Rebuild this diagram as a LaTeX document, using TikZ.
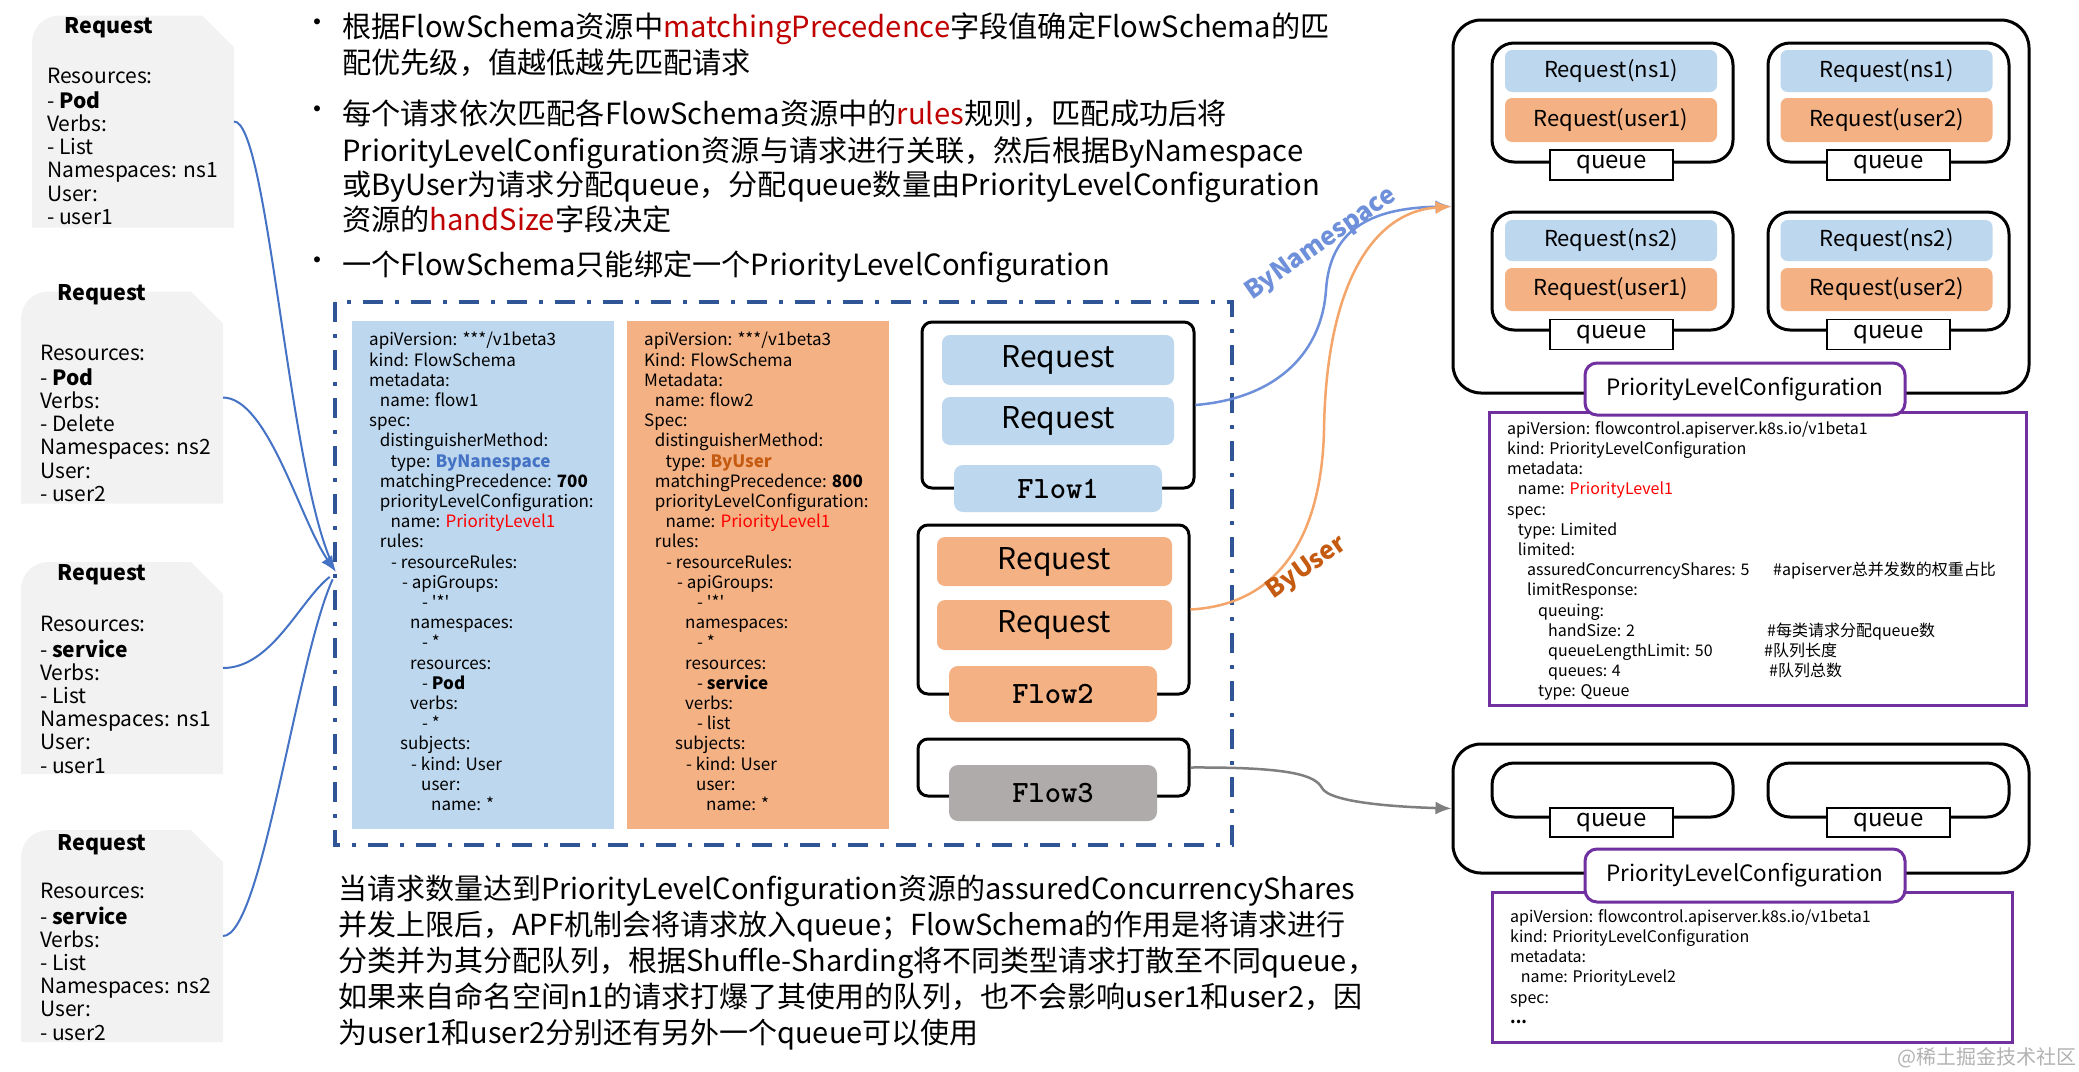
\documentclass[tikz,border=0pt]{standalone}
\usepackage{fontspec}
\setmainfont{Noto Sans CJK SC}
\newfontfamily\rawfont{Noto Sans CJK SC}[Ligatures=TeXOff]
\usetikzlibrary{calc,arrows.meta}
\definecolor{cardgray}{HTML}{F2F2F2}
\definecolor{lblue}{HTML}{BDD7EE}
\definecolor{lorange}{HTML}{F4B183}
\definecolor{fgray}{HTML}{AFABAB}
\definecolor{kblue}{HTML}{4472C4}
\definecolor{nsblue}{HTML}{6E8FD9}
\definecolor{korange}{HTML}{C55A11}
\definecolor{corange}{HTML}{F4A56A}
\definecolor{dred}{HTML}{C00000}
\definecolor{bred}{HTML}{FF0000}
\definecolor{purp}{HTML}{7030A0}
\definecolor{dashblue}{HTML}{2F5597}
\definecolor{linegray}{HTML}{7F7F7F}
\newcommand\drawcard[1]{%
  \fill[cardgray] (#1.south west) -- ($(#1.north west)+(0,28)$)
    .. controls ($(#1.north west)+(0,12)$) and ($(#1.north west)+(12,0)$) .. ($(#1.north west)+(28,0)$)
    -- ($(#1.north east)+(-32,0)$) -- ($(#1.north east)+(0,32)$) -- (#1.south east) -- cycle;}
\newcommand\sq{{\rawfont'*'}}
\begin{document}
\begin{tikzpicture}[x=1pt,y=-1pt,
  cardbox/.style={inner sep=0pt, outer sep=0pt, minimum width=202pt, minimum height=212pt},
  cardhead/.style={font=\fontsize{21.5}{26}\selectfont\bfseries, inner sep=0pt, anchor=west},
  cardtext/.style={font=\fontsize{21}{23.2}\selectfont, align=left, inner sep=0pt, anchor=north west},
  bullettext/.style={font=\fontsize{29.2}{34.5}\selectfont, align=left, inner sep=0pt, anchor=north west},
  bottomtext/.style={font=\fontsize{29}{36}\selectfont, align=left, inner sep=0pt, anchor=north west},
  bulletdot/.style={font=\fontsize{28}{34.5}\selectfont, inner sep=0pt},
  yamltext/.style={font=\fontsize{17}{20.2}\selectfont, align=left, inner sep=0pt, anchor=north west},
  plyaml/.style={font=\fontsize{16}{20.2}\selectfont, align=left, inner sep=0pt, anchor=north west},
  yamlbox/.style={inner sep=0pt, draw=none, minimum width=262pt, minimum height=508pt},
  flowbox/.style={draw=black, line width=3pt, rounded corners=10pt, inner sep=0pt},
  reqbox/.style={rounded corners=8pt, inner sep=0pt, font=\fontsize{30}{34}\selectfont},
  flowlabel/.style={rounded corners=9pt, inner sep=0pt, minimum width=208pt, font=\fontsize{31}{34}\selectfont\ttfamily\bfseries},
  bigbox/.style={draw=black, line width=3pt, rounded corners=28pt, inner sep=0pt, minimum width=576pt},
  qbox/.style={draw=black, line width=3pt, rounded corners=22pt, inner sep=0pt, minimum width=241pt},
  ireq/.style={rounded corners=7pt, inner sep=0pt, minimum width=212pt, font=\fontsize{22}{26}\selectfont},
  qlabel/.style={draw=black, line width=1.8pt, fill=white, inner sep=0pt, minimum width=123pt, minimum height=30pt, font=\fontsize{24}{28}\selectfont},
  purpbox/.style={draw=purp, line width=3pt, fill=white, inner sep=0pt},
  plclabel/.style={draw=purp, line width=3pt, fill=white, rounded corners=12pt, inner sep=0pt, minimum width=320pt, minimum height=52pt, font=\fontsize{22.5}{27}\selectfont},
  lconn/.style={draw=kblue, line width=2pt},
  nsconn/.style={draw=nsblue, line width=2.5pt, -{Latex[length=16pt,width=13pt]}},
  uconn/.style={draw=corange, line width=2.5pt, -{Latex[length=16pt,width=13pt]}},
  gconn/.style={draw=linegray, line width=2.5pt, -{Latex[length=16pt,width=13pt]}},
  dashbox/.style={draw=dashblue, line width=4pt, dash pattern=on 20pt off 12pt on 4pt off 12pt}
]
\fill[white] (0,0) rectangle (2079,1071);
\useasboundingbox (0,0) rectangle (2079,1071);

% ---------- left request cards ----------
\node[cardbox] (card1) at (133,121.5) {};
\node[cardbox] (card2) at (122,397.5) {};
\node[cardbox] (card3) at (122,668) {};
\node[cardbox] (card4) at (122,936) {};
\drawcard{card1}\drawcard{card2}\drawcard{card3}\drawcard{card4}
\node[cardhead] (card1h) at (64,28) {Request};
\node[cardhead] (card2h) at (57,295) {Request};
\node[cardhead] (card3h) at (57,575) {Request};
\node[cardhead] (card4h) at (57,845) {Request};
\node[cardtext] (card1t) at (47,67.2) {\strut Resources:\\- \textbf{Pod}\\Verbs:\\- List\\Namespaces: ns1\\User:\\- user1};
\node[cardtext] (card2t) at (40,344.2) {\strut Resources:\\- \textbf{Pod}\\Verbs:\\- Delete\\Namespaces: ns2\\User:\\- user2};
\node[cardtext] (card3t) at (40,615.2) {\strut Resources:\\- \textbf{service}\\Verbs:\\- List\\Namespaces: ns1\\User:\\- user1};
\node[cardtext] (card4t) at (40,882.2) {\strut Resources:\\- \textbf{service}\\Verbs:\\- List\\Namespaces: ns2\\User:\\- user2};

\coordinate (tgt) at (336,572);
\draw[lconn, shorten >=8pt] (card1.east) .. controls (268,121) and (288,470) .. (tgt);
\draw[lconn, -{Latex[length=16pt,width=13pt]}] (card2.east) .. controls (268,398) and (300,520) .. (tgt);
\draw[lconn, shorten >=8pt] (card3.east) .. controls (272,668) and (300,600) .. (tgt);
\draw[lconn, shorten >=8pt] (card4.east) .. controls (262,936) and (296,660) .. (tgt);

% ---------- bullets ----------
\node[bulletdot] (bd1) at (317,26) {•};
\node[bulletdot] (bd2) at (317,113) {•};
\node[bulletdot] (bd3) at (317,264) {•};
\node[bullettext] (b1) at (342,13) {\strut 根据FlowSchema资源中\textcolor{dred}{matchingPrecedence}字段值确定FlowSchema的匹\\配优先级，值越低越先匹配请求};
\node[bullettext] (b2) at (342,100) {\strut 每个请求依次匹配各FlowSchema资源中的\textcolor{dred}{rules}规则，匹配成功后将\\PriorityLevelConfiguration资源与请求进行关联，然后根据ByNamespace\\或ByUser为请求分配queue，分配queue数量由PriorityLevelConfiguration\\资源的\textcolor{dred}{handSize}字段决定};
\node[bullettext] (b3) at (342,251) {\strut 一个FlowSchema只能绑定一个PriorityLevelConfiguration};

% ---------- dashed frame and FlowSchema yaml ----------
\draw[dashbox] (335,302) rectangle (1232,845);
\node[yamlbox, fill=lblue] (fs1) at (483,575) {};
\node[yamlbox, fill=lorange] (fs2) at (758,575) {};
\node[yamltext] (fs1t) at (369,331.5) {\strut apiVersion: ***/v1beta3\\
kind: FlowSchema\\
metadata:\\
\hspace*{10.7pt}name: flow1\\
spec:\\
\hspace*{10.7pt}distinguisherMethod:\\
\hspace*{21.4pt}type: \textcolor{kblue}{\textbf{ByNanespace}}\\
\hspace*{10.7pt}matchingPrecedence: \textbf{700}\\
\hspace*{10.7pt}priorityLevelConfiguration:\\
\hspace*{21.4pt}name: \textcolor{bred}{PriorityLevel1}\\
\hspace*{10.7pt}rules:\\
\hspace*{22pt}- resourceRules:\\
\hspace*{33pt}- apiGroups:\\
\hspace*{53pt}- \sq\\
\hspace*{41pt}namespaces:\\
\hspace*{53pt}- *\\
\hspace*{41pt}resources:\\
\hspace*{53pt}- \textbf{Pod}\\
\hspace*{41pt}verbs:\\
\hspace*{53pt}- *\\
\hspace*{31pt}subjects:\\
\hspace*{42pt}- kind: User\\
\hspace*{52pt}user:\\
\hspace*{62pt}name: *};
\node[yamltext] (fs2t) at (644,331.5) {\strut apiVersion: ***/v1beta3\\
Kind: FlowSchema\\
Metadata:\\
\hspace*{10.7pt}name: flow2\\
Spec:\\
\hspace*{10.7pt}distinguisherMethod:\\
\hspace*{21.4pt}type: \textcolor{korange}{\textbf{ByUser}}\\
\hspace*{10.7pt}matchingPrecedence: \textbf{800}\\
\hspace*{10.7pt}priorityLevelConfiguration:\\
\hspace*{21.4pt}name: \textcolor{bred}{PriorityLevel1}\\
\hspace*{10.7pt}rules:\\
\hspace*{22pt}- resourceRules:\\
\hspace*{33pt}- apiGroups:\\
\hspace*{53pt}- \sq\\
\hspace*{41pt}namespaces:\\
\hspace*{53pt}- *\\
\hspace*{41pt}resources:\\
\hspace*{53pt}- \textbf{service}\\
\hspace*{41pt}verbs:\\
\hspace*{53pt}- list\\
\hspace*{31pt}subjects:\\
\hspace*{42pt}- kind: User\\
\hspace*{52pt}user:\\
\hspace*{62pt}name: *};

% ---------- flows ----------
\node[flowbox, minimum width=272pt, minimum height=166pt] (f1) at (1058,405) {};
\node[reqbox, fill=lblue, minimum width=232pt, minimum height=50pt] (f1r1) at (1058,360) {Request};
\node[reqbox, fill=lblue, minimum width=232pt, minimum height=48pt] (f1r2) at (1058,421) {Request};
\node[flowlabel, fill=lblue, minimum height=47pt] (f1l) at (1058,488.5) {Flow1};
\node[flowbox, minimum width=271pt, minimum height=169pt] (f2) at (1053.5,609.5) {};
\node[reqbox, fill=lorange, minimum width=235pt, minimum height=49pt] (f2r1) at (1054.5,561.5) {Request};
\node[reqbox, fill=lorange, minimum width=235pt, minimum height=50pt] (f2r2) at (1054.5,625) {Request};
\node[flowlabel, fill=lorange, minimum height=56pt] (f2l) at (1053,694) {Flow2};
\node[flowbox, minimum width=271pt, minimum height=57pt] (f3) at (1053.5,767.5) {};
\node[flowlabel, fill=fgray, minimum height=56pt] (f3l) at (1053,793) {Flow3};

% ---------- PriorityLevel1 ----------
\node[bigbox, minimum height=373pt] (plc1) at (1741,206.5) {};
\node[qbox, minimum height=119pt] (q1) at (1612.5,102.5) {};
\node[qbox, minimum height=119pt] (q2) at (1888.5,102.5) {};
\node[qbox, minimum height=118pt] (q3) at (1612.5,271) {};
\node[qbox, minimum height=118pt] (q4) at (1888.5,271) {};
\node[ireq, fill=lblue, minimum height=42pt] (q1a) at (1611,71) {Request(ns1)};
\node[ireq, fill=lorange, minimum height=44pt] (q1b) at (1611,120) {Request(user1)};
\node[ireq, fill=lblue, minimum height=42pt] (q2a) at (1886.5,71) {Request(ns1)};
\node[ireq, fill=lorange, minimum height=44pt] (q2b) at (1886.5,120) {Request(user2)};
\node[ireq, fill=lblue, minimum height=41pt] (q3a) at (1611,240.5) {Request(ns2)};
\node[ireq, fill=lorange, minimum height=43pt] (q3b) at (1611,289.5) {Request(user1)};
\node[ireq, fill=lblue, minimum height=41pt] (q4a) at (1886.5,240.5) {Request(ns2)};
\node[ireq, fill=lorange, minimum height=43pt] (q4b) at (1886.5,289.5) {Request(user2)};
\node[qlabel] (q1l) at (1611.5,165) {queue};
\node[qlabel] (q2l) at (1888.5,165) {queue};
\node[qlabel] (q3l) at (1611.5,334.5) {queue};
\node[qlabel] (q4l) at (1888.5,334.5) {queue};
\node[purpbox, minimum width=537pt, minimum height=293pt] (pl1box) at (1757.5,558.5) {};
\node[plclabel] (plcl1) at (1745,389) {PriorityLevelConfiguration};
\node[plyaml] (pl1t) at (1507,420) {\strut apiVersion: flowcontrol.apiserver.k8s.io/v1beta1\\
kind: PriorityLevelConfiguration\\
metadata:\\
\hspace*{10.7pt}name: \textcolor{bred}{PriorityLevel1}\\
spec:\\
\hspace*{10.7pt}type: Limited\\
\hspace*{10.7pt}limited:\\
\makebox[266pt][l]{\hspace*{20pt}assuredConcurrencyShares: 5}\#apiserver总并发数的权重占比\\
\hspace*{20pt}limitResponse:\\
\hspace*{31pt}queuing:\\
\makebox[260pt][l]{\hspace*{41pt}handSize: 2}\#每类请求分配queue数\\
\makebox[257pt][l]{\hspace*{41pt}queueLengthLimit: 50}\#队列长度\\
\makebox[262pt][l]{\hspace*{41pt}queues: 4}\#队列总数\\
\hspace*{31pt}type: Queue};

% ---------- PriorityLevel2 ----------
\node[bigbox, minimum height=129pt] (plc2) at (1741,808.5) {};
\node[qbox, minimum height=54pt] (q5) at (1612.5,790) {};
\node[qbox, minimum height=54pt] (q6) at (1888.5,790) {};
\node[qlabel, minimum height=29pt] (q5l) at (1611.5,822.5) {queue};
\node[qlabel, minimum height=29pt] (q6l) at (1888.5,822.5) {queue};
\node[purpbox, minimum width=520pt, minimum height=150pt] (pl2box) at (1752,967) {};
\node[plclabel, minimum height=53pt] (plcl2) at (1745,875.5) {PriorityLevelConfiguration};
\node[plyaml] (pl2t) at (1510,908) {\strut apiVersion: flowcontrol.apiserver.k8s.io/v1beta1\\
kind: PriorityLevelConfiguration\\
metadata:\\
\hspace*{10.7pt}name: PriorityLevel2\\
spec:\\
\textbf{...}};

% ---------- connectors to priority levels ----------
\draw[nsconn] (f1.east) .. controls (1280,398) and (1322,350) .. (1326,290) .. controls (1330,230) and (1370,208) .. (plc1.west);
\draw[uconn] (f2.east) .. controls (1290,604) and (1322,520) .. (1324,430) .. controls (1326,290) and (1370,212) .. (plc1.west);
\draw[gconn] (f3.east) .. controls (1290,767) and (1315,775) .. (1322,788) .. controls (1330,803) and (1400,807) .. (plc2.west);
\node[rotate=35, text=nsblue, font=\fontsize{25}{30}\selectfont\bfseries, inner sep=0pt] (lblns) at (1321,244) {ByNamespace};
\node[rotate=35, text=korange, font=\fontsize{25}{30}\selectfont\bfseries, inner sep=0pt] (lblu) at (1307,568) {ByUser};

% ---------- bottom text ----------
\node[bottomtext] (bt) at (338,874.2) {\strut 当请求数量达到PriorityLevelConfiguration资源的assuredConcurrencyShares\\
并发上限后，APF机制会将请求放入queue；FlowSchema的作用是将请求进行\\
分类并为其分配队列，根据Shuffle-Sharding将不同类型请求打散至不同queue，\\
如果来自命名空间n1的请求打爆了其使用的队列，也不会影响user1和user2，因\\
为user1和user2分别还有另外一个queue可以使用};

\node[text=black!30, font=\fontsize{20}{24}\selectfont, inner sep=0pt, anchor=east] (wm) at (2077,1058) {@稀土掘金技术社区};
\end{tikzpicture}
\end{document}
